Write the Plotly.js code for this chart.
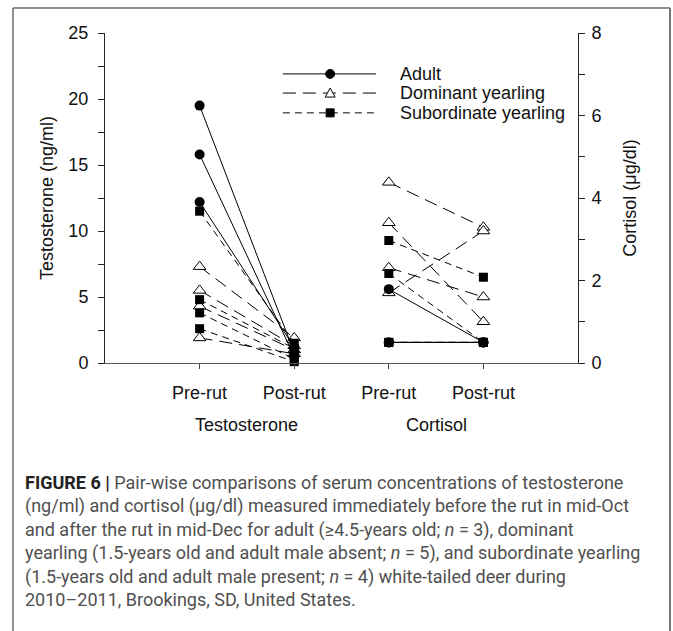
<!DOCTYPE html>
<html>
<head>
<meta charset="utf-8">
<script src="https://cdn.plot.ly/plotly-3.0.1.min.js"></script>
<style>html,body{margin:0;padding:0;background:#fff}#chart{width:673px;height:631px}</style>
</head>
<body>
<div id="chart"></div>
<script>
// ---- data ----
const groupNames = ['Adult', 'Dominant yearling', 'Subordinate yearling'];
const xTickLabels = ['Pre-rut', 'Post-rut', 'Pre-rut', 'Post-rut'];
const hormoneLabels = ['Testosterone', 'Cortisol'];

const testoPreAdult = [19.5, 15.8, 12.2];
const testoPostAdult = [0.8, 0.5, 1.2];
const testoPreDominant = [7.3, 5.5, 4.3, 1.9];
const testoPostDominant = [1.9, 1.3, 1.0, 0.7];
const testoPreSubordinate = [11.5, 4.8, 3.8, 2.6];
const testoPostSubordinate = [1.5, 1.1, 0.3, 0.1];

const cortPreAdult = [1.79, 0.5, 0.5];
const cortPostAdult = [0.5, 0.5, 0.5];
const cortPreDominant = [4.38, 3.40, 2.31, 1.70];
const cortPostDominant = [3.29, 1.00, 1.60, 3.20];
const cortPreSubordinate = [2.97, 2.17, 0.5, 0.5];
const cortPostSubordinate = [2.08, 0.5, 0.5, 0.5];

// ---- build ----
const styles = {
  'Adult': {dash: 'solid', marker: {symbol: 'circle', size: 10, color: '#000'}},
  'Dominant yearling': {dash: '13px,7px', marker: {symbol: 'triangle-up', size: 11, color: '#fff', line: {color: '#000', width: 1}}},
  'Subordinate yearling': {dash: '7px,5px', marker: {symbol: 'square', size: 9, color: '#000'}}
};

function pairs(pre, post, xPre, xPost) {
  const x = [], y = [];
  pre.forEach((v, i) => { x.push(xPre, xPost, null); y.push(v, post[i], null); });
  return {x, y};
}

const sets = [
  ['Dominant yearling', testoPreDominant, testoPostDominant, cortPreDominant, cortPostDominant],
  ['Subordinate yearling', testoPreSubordinate, testoPostSubordinate, cortPreSubordinate, cortPostSubordinate],
  ['Adult', testoPreAdult, testoPostAdult, cortPreAdult, cortPostAdult]
];

const traces = [];
sets.forEach(([name, tPre, tPost, cPre, cPost]) => {
  const st = styles[name];
  const t = pairs(tPre, tPost, 1, 2);
  traces.push({x: t.x, y: t.y, type: 'scatter', mode: 'lines+markers', name: name,
    line: {color: '#000', width: 1, dash: st.dash}, marker: st.marker, showlegend: false,
    connectgaps: false, cliponaxis: false, yaxis: 'y'});
  const c = pairs(cPre, cPost, 3, 4);
  traces.push({x: c.x, y: c.y, type: 'scatter', mode: 'lines+markers', name: name,
    line: {color: '#000', width: 1, dash: st.dash}, marker: st.marker, showlegend: false,
    connectgaps: false, cliponaxis: false, yaxis: 'y2'});
});

// custom legend (shapes + text), positions in paper units
const legY = [0.876, 0.818, 0.758];
const legX0 = 0.376, legX1 = 0.573, legXm = 0.476, legXt = 0.619;
const shapes = [];
const annotations = [];
groupNames.forEach((name, i) => {
  const st = styles[name];
  shapes.push({type: 'line', xref: 'paper', yref: 'paper', x0: legX0, x1: legX1, y0: legY[i], y1: legY[i],
    line: {color: '#000', width: 1, dash: st.dash}});
  if (name === 'Adult') {
    shapes.push({type: 'circle', xref: 'paper', yref: 'paper', xsizemode: 'pixel', ysizemode: 'pixel',
      xanchor: legXm, yanchor: legY[i], x0: -4.5, x1: 4.5, y0: -4.5, y1: 4.5,
      fillcolor: '#000', line: {color: '#000', width: 1}});
  } else if (name === 'Dominant yearling') {
    shapes.push({type: 'path', xref: 'paper', yref: 'paper', xsizemode: 'pixel', ysizemode: 'pixel',
      xanchor: legXm, yanchor: legY[i], path: 'M-5,-4 L5,-4 L0,5 Z',
      fillcolor: '#fff', line: {color: '#000', width: 1}});
  } else {
    shapes.push({type: 'rect', xref: 'paper', yref: 'paper', xsizemode: 'pixel', ysizemode: 'pixel',
      xanchor: legXm, yanchor: legY[i], x0: -4, x1: 4, y0: -4, y1: 4,
      fillcolor: '#000', line: {color: '#000', width: 1}});
  }
  annotations.push({xref: 'paper', yref: 'paper', x: legXt, y: legY[i], xanchor: 'left', yanchor: 'middle',
    text: name, showarrow: false, font: {size: 18, color: '#111'}});
});

// group labels under the x axis
hormoneLabels.forEach((lab, i) => {
  annotations.push({xref: 'x', yref: 'paper', x: 1.5 + 2 * i, y: -0.188, xanchor: 'center', yanchor: 'middle',
    text: lab, showarrow: false, font: {size: 18, color: '#111'}});
});

// caption
const caption = '<span style="color:#222"><b>FIGURE 6 |</b></span> Pair-wise comparisons of serum concentrations of testosterone<br>' +
  '(ng/ml) and cortisol (μg/dl) measured immediately before the rut in mid-Oct<br>' +
  'and after the rut in mid-Dec for adult (≥4.5-years old; <i>n</i> = 3), dominant<br>' +
  'yearling (1.5-years old and adult male absent; <i>n</i> = 5), and subordinate yearling<br>' +
  '(1.5-years old and adult male present; <i>n</i> = 4) white-tailed deer during<br>' +
  '2010–2011, Brookings, SD, United States.';
annotations.push({xref: 'paper', yref: 'paper', x: -0.173, y: -0.325, xanchor: 'left', yanchor: 'top', align: 'left',
  text: caption, showarrow: false, font: {family: 'Roboto, sans-serif', size: 18, color: '#505050'}});

// outer frame
shapes.push({type: 'line', xref: 'paper', yref: 'paper', x0: -0.1945, x1: -0.1945, y0: 1.0758, y1: -0.9, line: {color: '#222', width: 1}});
shapes.push({type: 'line', xref: 'paper', yref: 'paper', x0: -0.1945, x1: 1.1945, y0: 1.0758, y1: 1.0758, line: {color: '#222', width: 1}});
shapes.push({type: 'line', xref: 'paper', yref: 'paper', x0: 1.1945, x1: 1.1945, y0: 1.0758, y1: -0.9, line: {color: '#777', width: 2}});

const axisFont = {family: 'Liberation Sans, Arial, sans-serif', size: 18, color: '#111'};
const layout = {
  width: 673, height: 631,
  margin: {l: 105, r: 95, t: 33, b: 268},
  paper_bgcolor: '#fff', plot_bgcolor: '#fff',
  font: {family: 'Liberation Sans, Arial, sans-serif', size: 18, color: '#111'},
  showlegend: false,
  xaxis: {range: [0, 5], tickvals: [1, 2, 3, 4], ticktext: xTickLabels, ticks: 'outside', ticklen: 5,
    tickcolor: '#444', showline: true, linecolor: '#555', linewidth: 1, showgrid: false, zeroline: false,
    tickfont: axisFont, ticklabelstandoff: 8, fixedrange: true},
  yaxis: {range: [0, 25], tickvals: [0, 5, 10, 15, 20, 25], ticks: 'outside', ticklen: 6, tickcolor: '#222',
    minor: {tickvals: [2.5, 7.5, 12.5, 17.5, 22.5], ticks: 'outside', ticklen: 6, tickcolor: '#222'},
    showline: true, linecolor: '#222', linewidth: 1, showgrid: false, zeroline: false, tickfont: axisFont,
    ticklabelstandoff: 6,
    title: {text: 'Testosterone (ng/ml)', font: axisFont, standoff: 10}},
  yaxis2: {range: [0, 8], overlaying: 'y', side: 'right', tickvals: [0, 2, 4, 6, 8], ticks: 'outside', ticklen: 6,
    tickcolor: '#222', minor: {tickvals: [1, 3, 5, 7], ticks: 'outside', ticklen: 6, tickcolor: '#222'},
    showline: true, linecolor: '#222', linewidth: 1, showgrid: false, zeroline: false, tickfont: axisFont,
    ticklabelstandoff: 3,
    title: {text: 'Cortisol (μg/dl)', font: axisFont, standoff: 22}},
  shapes: shapes,
  annotations: annotations
};

Plotly.newPlot('chart', traces, layout, {displayModeBar: false, staticPlot: true});
</script>
</body>
</html>
